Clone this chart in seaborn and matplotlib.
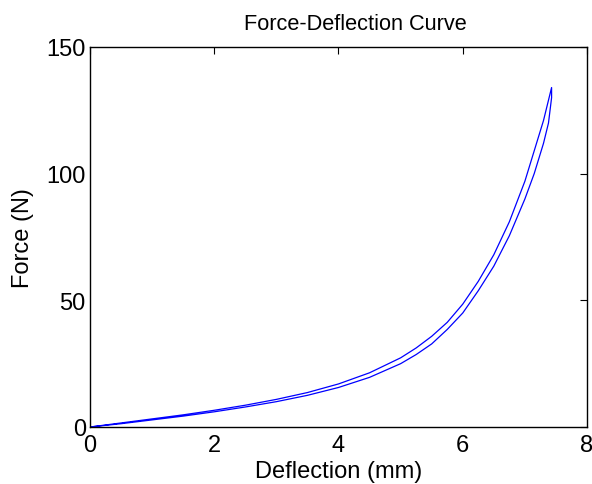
import matplotlib
matplotlib.use("Agg")
import matplotlib.pyplot as plt
import seaborn as sns
import pandas as pd

# Loading branch (upper curve)
load_defl = [0.0, 0.5, 1.0, 1.5, 2.0, 2.5, 3.0, 3.5, 4.0, 4.5, 5.0, 5.25, 5.5, 5.75,
             6.0, 6.25, 6.5, 6.75, 7.0, 7.15, 7.3, 7.43]
load_force = [0.0, 1.6, 3.2, 4.8, 6.6, 8.6, 10.9, 13.6, 17.0, 21.4, 27.3, 31.2, 35.8, 41.3,
              48.5, 57.5, 68.0, 81.0, 97.0, 109.0, 121.0, 134.0]
# Unloading branch (lower curve)
unload_defl = [7.43, 7.38, 7.3, 7.15, 7.0, 6.75, 6.5, 6.25, 6.0, 5.75, 5.5, 5.25, 5.0,
               4.5, 4.0, 3.5, 3.0, 2.5, 2.0, 1.5, 1.0, 0.5, 0.0]
unload_force = [130.0, 120.0, 112.0, 100.0, 90.0, 75.5, 63.5, 53.8, 45.0, 38.5, 32.8, 28.6, 25.0,
                19.6, 15.6, 12.5, 10.0, 7.9, 6.0, 4.3, 2.8, 1.3, 0.0]

x_ticks = [0, 2, 4, 6, 8]
y_ticks = [0, 50, 100, 150]

df = pd.DataFrame({
    "Deflection (mm)": load_defl + unload_defl,
    "Force (N)": load_force + unload_force,
})

sns.set_style("white")
plt.rcParams["font.family"] = ["Liberation Sans", "DejaVu Sans"]
plt.rcParams["text.color"] = "black"
plt.rcParams["axes.labelcolor"] = "black"

fig = plt.figure(figsize=(5.92, 4.85), dpi=100)
ax = fig.add_axes([90 / 592, 57 / 485, 497 / 592, 380 / 485])

sns.lineplot(data=df, x="Deflection (mm)", y="Force (N)", sort=False,
             estimator=None, color="#0000ff", linewidth=0.9, ax=ax)

ax.set_xlim(0, 8)
ax.set_ylim(0, 150)
ax.set_xticks(x_ticks)
ax.set_yticks(y_ticks)
ax.tick_params(direction="in", length=5, width=0.8, top=True, right=True,
               labelsize=17, colors="black")
ax.tick_params(axis="x", pad=5)
ax.tick_params(axis="y", pad=3)
for s in ax.spines.values():
    s.set_visible(True)
    s.set_color("black")
    s.set_linewidth(1.0)

ax.set_xlabel("Deflection (mm)", fontsize=17, labelpad=3, color="black")
ax.set_ylabel("Force (N)", fontsize=17, labelpad=9, color="black")
ax.set_title("Force-Deflection Curve", fontsize=15.7, pad=13, color="black",
             x=0.533)

fig.savefig("out.png", dpi=100)
